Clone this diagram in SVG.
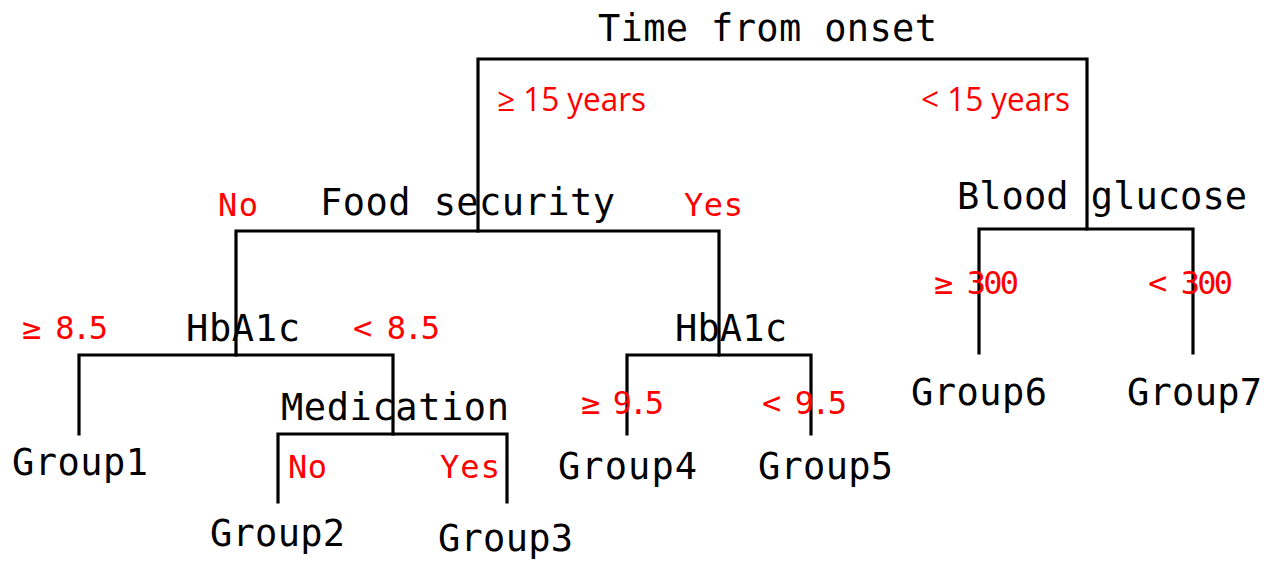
<svg xmlns="http://www.w3.org/2000/svg" width="1271" height="563" viewBox="0 0 1271 563">
<style>
.n{font-family:"DejaVu Sans Mono","Liberation Mono",monospace;font-size:37px;fill:#000}
.r{font-family:"DejaVu Sans Mono","Liberation Mono",monospace;font-size:32px;fill:#ff0000}
.rp{font-family:"Open Sans","Liberation Sans",sans-serif;font-size:32px;fill:#ff0000}
.e{stroke:#000;stroke-width:3.2;fill:none;stroke-linecap:square}
</style>
<rect width="1271" height="563" fill="#fff"/>
<g id="connectors">
<path class="e" d="M478 231V59H1087V229"/>
<path class="e" d="M236 355V231H719V355"/>
<path class="e" d="M79 434V355H393V434"/>
<path class="e" d="M278 502V434H507V502"/>
<path class="e" d="M627 434V355H811V434"/>
<path class="e" d="M979 353V229H1193V353"/>
</g>
<g id="labels">
<text class="rp" x="497" y="111" textLength="149" lengthAdjust="spacingAndGlyphs">≥ 15 years</text>
<text class="rp" x="921" y="111" textLength="149" lengthAdjust="spacingAndGlyphs">&lt; 15 years</text>
<text class="r" x="218" y="216" textLength="40">No</text>
<text class="r" x="684" y="216" textLength="59">Yes</text>
<text class="r" x="22" y="339" textLength="86">≥ 8.5</text>
<text class="r" x="353" y="339" textLength="87">&lt; 8.5</text>
<text class="r" x="581" y="414" textLength="83">≥ 9.5</text>
<text class="r" x="762" y="414" textLength="85">&lt; 9.5</text>
<text class="r" x="934" y="294" textLength="85">≥ 300</text>
<text class="r" x="1148" y="294" textLength="85">&lt; 300</text>
<text class="r" x="288" y="478" textLength="39">No</text>
<text class="r" x="440" y="478" textLength="60">Yes</text>
</g>
<g id="n-time"><text class="n" x="598" y="41" textLength="339">Time from onset</text></g>
<g id="n-food"><text class="n" x="320" y="215" textLength="295">Food security</text></g>
<g id="n-blood"><text class="n" x="957" y="209" textLength="290">Blood glucose</text></g>
<g id="n-hba1c-1"><text class="n" x="186" y="341" textLength="114">HbA1c</text></g>
<g id="n-hba1c-2"><text class="n" x="675" y="341" textLength="112">HbA1c</text></g>
<g id="n-med"><text class="n" x="281" y="420" textLength="228">Medication</text></g>
<g id="n-g1"><text class="n" x="12" y="475" textLength="136">Group1</text></g>
<g id="n-g2"><text class="n" x="210" y="546" textLength="135">Group2</text></g>
<g id="n-g3"><text class="n" x="438" y="551" textLength="135">Group3</text></g>
<g id="n-g4"><text class="n" x="558" y="479" textLength="139">Group4</text></g>
<g id="n-g5"><text class="n" x="758" y="479" textLength="135">Group5</text></g>
<g id="n-g6"><text class="n" x="911" y="405" textLength="136">Group6</text></g>
<g id="n-g7"><text class="n" x="1127" y="405" textLength="135">Group7</text></g>
</svg>
